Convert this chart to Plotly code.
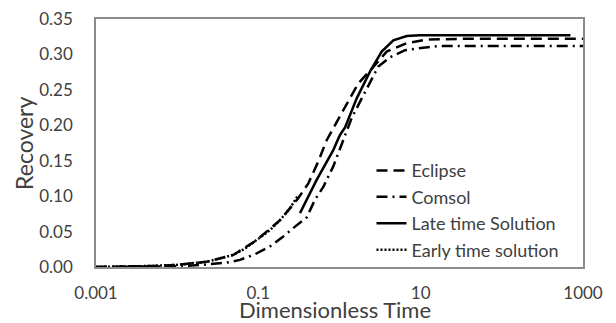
import plotly.graph_objects as go

# Dimensionless time (x) and recovery (y) values
early_t = [0.001, 0.002, 0.005, 0.01, 0.0231, 0.0407, 0.0492, 0.0686, 0.0955, 0.139, 0.185, 0.246, 0.311]
early_r = [0.0, 0.0005, 0.0015, 0.003, 0.0075, 0.0146, 0.017, 0.026, 0.038, 0.052, 0.066, 0.083, 0.1016]

late_t = [0.326, 0.523, 0.838, 1.01, 1.17, 1.63, 2.38, 3.31, 4.61, 6.73, 9.8, 20, 50, 100, 300, 700]
late_r = [0.076, 0.123, 0.165, 0.186, 0.197, 0.238, 0.276, 0.304, 0.320, 0.326, 0.327, 0.327, 0.327, 0.327, 0.327, 0.327]

eclipse_t = [0.001, 0.002, 0.005, 0.01, 0.0231, 0.0492, 0.0955, 0.185, 0.31, 0.413, 0.548, 0.695, 0.88,
             1.23, 1.70, 2.51, 3.81, 6.73, 11.9, 30, 100, 300, 1000]
eclipse_r = [0.0, 0.0005, 0.0015, 0.003, 0.0075, 0.017, 0.038, 0.066, 0.097, 0.118, 0.149, 0.179, 0.200,
             0.231, 0.259, 0.280, 0.304, 0.316, 0.321, 0.322, 0.322, 0.322, 0.322]

comsol_t = [0.001, 0.002, 0.005, 0.01, 0.02, 0.04, 0.0594, 0.091, 0.139, 0.203, 0.283, 0.394, 0.499, 0.631,
            0.838, 1.11, 1.41, 1.88, 2.49, 3.01, 4.19, 6.41, 8.5, 17.3, 50, 200, 1000]
comsol_r = [0.0, 0.0002, 0.0005, 0.001, 0.003, 0.006, 0.010, 0.018, 0.029, 0.043, 0.057, 0.070, 0.095, 0.113,
            0.142, 0.179, 0.21, 0.238, 0.266, 0.283, 0.296, 0.306, 0.308, 0.312, 0.312, 0.312, 0.312]

y_ticks = [0.0, 0.05, 0.10, 0.15, 0.20, 0.25, 0.30, 0.35]
x_tick_vals = [0.001, 0.1, 10, 1000]
x_tick_text = ["0.001", "0.1", "10", "1000"]

FONT = "Lato, 'Open Sans', sans-serif"
TXT = "#404040"

fig = go.Figure()
fig.add_trace(go.Scatter(x=eclipse_t, y=eclipse_r, mode="lines", name="Eclipse",
                         line=dict(color="black", width=2.5, dash="11px,6px")))
fig.add_trace(go.Scatter(x=comsol_t, y=comsol_r, mode="lines", name="Comsol",
                         line=dict(color="black", width=2.5, dash="11px,5px,2px,5px")))
fig.add_trace(go.Scatter(x=late_t, y=late_r, mode="lines", name="Late time Solution",
                         line=dict(color="black", width=2.5)))
fig.add_trace(go.Scatter(x=early_t, y=early_r, mode="lines", name="Early time solution",
                         line=dict(color="black", width=2.5, dash="2px,2px")))

fig.update_layout(
    width=616, height=323,
    margin=dict(l=96, r=33, t=19, b=56, autoexpand=False),
    paper_bgcolor="white", plot_bgcolor="white",
    font=dict(family=FONT, size=17, color=TXT),
    showlegend=True,
    legend=dict(x=0.962, y=-0.005, xanchor="right", yanchor="bottom",
                bgcolor="rgba(255,255,255,0)", font=dict(size=18, color=TXT),
                tracegroupgap=0),
    xaxis=dict(type="log", range=[-3, 3], tickvals=x_tick_vals, ticktext=x_tick_text,
               showgrid=False, zeroline=False, showline=True, mirror=True, automargin=False,
               linecolor="#8c8c8c", linewidth=1.5, ticks="", ticklabelstandoff=10,
               tickfont=dict(size=17, color=TXT)),
    yaxis=dict(range=[0, 0.35], tickvals=y_ticks, tickformat=".2f", automargin=False,
               showgrid=False, zeroline=False, showline=True, mirror=True,
               linecolor="#8c8c8c", linewidth=1.5, ticks="", ticklabelstandoff=18,
               tickfont=dict(size=17, color=TXT)),
    annotations=[
        dict(text="Dimensionless Time", xref="paper", yref="paper", x=0.49, y=-0.172,
             xanchor="center", yanchor="middle", showarrow=False,
             font=dict(size=22, color=TXT)),
        dict(text="Recovery", xref="paper", yref="paper", x=-0.148, y=0.5,
             xanchor="center", yanchor="middle", showarrow=False, textangle=-90,
             font=dict(size=23, color=TXT)),
    ],
)

fig.write_html("out.html")
